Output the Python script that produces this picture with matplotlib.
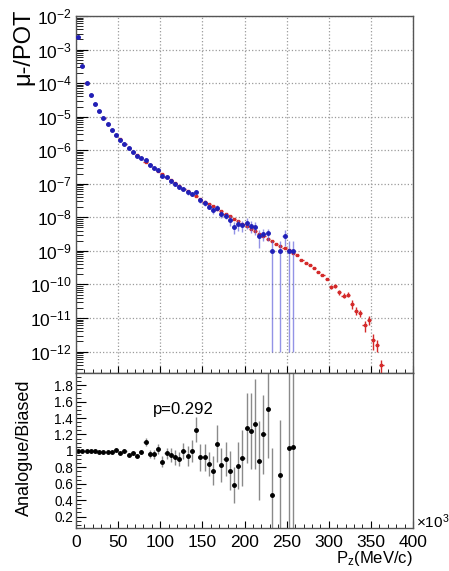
import numpy as np
import matplotlib
matplotlib.use("Agg")
import matplotlib.pyplot as plt
from matplotlib.ticker import LogLocator, MultipleLocator, FixedLocator, FuncFormatter, NullFormatter

plt.rcParams['font.family'] = ['Liberation Sans', 'DejaVu Sans']
plt.rcParams['mathtext.fontset'] = 'custom'
plt.rcParams['mathtext.rm'] = 'Liberation Sans'
plt.rcParams['mathtext.it'] = 'Liberation Sans:italic'
plt.rcParams['mathtext.default'] = 'regular'

# bins of 5 (x10^3 MeV/c), centres
half_bin = 2.5
biased_pz = np.arange(2.5, 365.0, 5.0)
analogue_pz = np.arange(2.5, 260.0, 5.0)

# log10(mu-/POT), biased sample (red)
biased_log = [
    -2.62, -3.50, -4.00, -4.34, -4.63, -4.84, -5.04, -5.23, -5.39, -5.54,
    -5.68, -5.81, -5.92, -6.04, -6.15, -6.23, -6.35, -6.43, -6.52, -6.61,
    -6.70, -6.80, -6.90, -6.98, -7.06, -7.15, -7.23, -7.29, -7.36, -7.45,
    -7.53, -7.60, -7.67, -7.75, -7.82, -7.90, -7.97, -8.05, -8.12, -8.20,
    -8.27, -8.35, -8.42, -8.50, -8.57, -8.66, -8.72, -8.78, -8.84, -8.91,
    -8.98, -9.05, -9.12, -9.26, -9.37, -9.43, -9.51, -9.63, -9.72, -9.83,
    -10.08, -10.04, -10.23, -10.33, -10.30, -10.57, -10.78, -10.85, -11.22, -11.05,
    -11.65, -11.80, -12.40,
]
# relative errors, biased
biased_relerr = [
    0.01, 0.01, 0.01, 0.01, 0.01, 0.01, 0.01, 0.01, 0.01, 0.01,
    0.01, 0.01, 0.01, 0.01, 0.01, 0.01, 0.01, 0.01, 0.01, 0.01,
    0.02, 0.02, 0.02, 0.02, 0.02, 0.02, 0.02, 0.02, 0.02, 0.02,
    0.02, 0.02, 0.02, 0.02, 0.02, 0.02, 0.02, 0.02, 0.02, 0.02,
    0.03, 0.03, 0.03, 0.03, 0.03, 0.03, 0.04, 0.04, 0.04, 0.04,
    0.05, 0.05, 0.06, 0.06, 0.07, 0.07, 0.07, 0.08, 0.08, 0.08,
    0.13, 0.13, 0.15, 0.15, 0.15, 0.30, 0.25, 0.25, 0.35, 0.30,
    0.50, 0.40, 0.45,
]

# log10(mu-/POT), analogue sample (blue); nan = empty bin
analogue_log = [
    -2.62, -3.50, -4.00, -4.34, -4.63, -4.84, -5.04, -5.23, -5.39, -5.54,
    -5.69, -5.81, -5.94, -6.05, -6.18, -6.23, -6.30, -6.45, -6.54, -6.60,
    -6.76, -6.81, -6.92, -7.02, -7.11, -7.15, -7.26, -7.29, -7.26, -7.49,
    -7.57, -7.68, -7.79, -7.71, -7.90, -7.95, -8.09, -8.29, -8.21, -8.24,
    -8.16, -8.26, -8.30, -8.56, -8.49, -8.48, -9.00, np.nan, -9.00, -8.56,
    -9.00, -9.00,
]
analogue_relerr = [
    0.003, 0.003, 0.004, 0.004, 0.005, 0.006, 0.007, 0.008, 0.009, 0.01,
    0.012, 0.014, 0.016, 0.018, 0.02, 0.025, 0.045, 0.05, 0.055, 0.06,
    0.08, 0.07, 0.085, 0.10, 0.10, 0.10, 0.13, 0.13, 0.12, 0.17,
    0.18, 0.18, 0.24, 0.20, 0.25, 0.23, 0.32, 0.38, 0.35, 0.37,
    0.34, 0.37, 0.41, 0.55, 0.40, 0.40, 0.999, np.nan, 0.999, 0.5,
    0.999, 0.999,
]

# Analogue/Biased ratio
ratio = [
    1.0, 1.0, 1.0, 0.995, 0.995, 0.99, 0.99, 0.99, 0.99, 1.01,
    0.975, 1.0, 0.95, 0.97, 0.94, 0.99, 1.11, 0.96, 0.96, 1.02,
    0.87, 0.97, 0.95, 0.92, 0.90, 1.0, 0.94, 1.0, 1.26, 0.92,
    0.92, 0.84, 0.76, 1.09, 0.83, 0.90, 0.76, 0.58, 0.82, 0.91,
    1.28, 1.24, 1.33, 0.88, 1.20, 1.51, 0.46, np.nan, 0.71, np.nan,
    1.04, 1.05,
]
ratio_err = [
    0.003, 0.003, 0.004, 0.004, 0.005, 0.006, 0.007, 0.008, 0.009, 0.01,
    0.012, 0.014, 0.016, 0.018, 0.02, 0.025, 0.05, 0.05, 0.055, 0.06,
    0.07, 0.07, 0.08, 0.09, 0.09, 0.10, 0.12, 0.13, 0.15, 0.16,
    0.17, 0.15, 0.18, 0.22, 0.21, 0.21, 0.24, 0.22, 0.29, 0.34,
    0.43, 0.46, 0.55, 0.48, 0.48, 0.60, 0.57, np.nan, 0.67, np.nan,
    5.0, 5.0,
]
p_value = 0.292

biased = 10.0 ** np.array(biased_log)
analogue = 10.0 ** np.array(analogue_log)

fig = plt.figure(figsize=(4.49, 5.71), dpi=100)
ax1 = fig.add_axes([0.1693, 0.3468, 0.7506, 0.6252])
ax2 = fig.add_axes([0.1693, 0.0753, 0.7506, 0.2715])

red = '#d42a2a'
blue = '#2020b8'

ax1.errorbar(biased_pz, biased, xerr=half_bin, yerr=biased * np.array(biased_relerr),
             fmt='s', ms=1.5, color=red, ecolor=red, elinewidth=1.0, capsize=0, zorder=3)
ax1.errorbar(analogue_pz, analogue, xerr=half_bin, yerr=analogue * np.array(analogue_relerr),
             fmt='o', ms=2.5, color=blue, ecolor=(0.35, 0.35, 0.85, 0.65), elinewidth=1.0,
             capsize=0, zorder=4)

ax1.set_yscale('log')
ax1.set_xlim(0, 400)
ax1.set_ylim(2.3e-13, 1e-2)
ax1.yaxis.set_major_locator(LogLocator(base=10, numticks=20))
ax1.yaxis.set_minor_locator(LogLocator(base=10, subs=np.arange(2, 10), numticks=20))
ax1.yaxis.set_minor_formatter(NullFormatter())
ax1.xaxis.set_major_locator(MultipleLocator(50))
ax1.xaxis.set_minor_locator(MultipleLocator(10))
ax1.xaxis.set_major_formatter(NullFormatter())
ax1.grid(True, which='major', color='#9a9a9a', linestyle=':', linewidth=0.9)
ax1.tick_params(axis='y', which='major', direction='in', length=8.5, width=0.8,
                labelsize=12.5, left=True, right=False, pad=3)
ax1.tick_params(axis='y', which='minor', direction='in', length=5, width=0.6, right=False)
ax1.tick_params(axis='x', which='major', direction='in', length=5, width=0.8, top=False)
ax1.tick_params(axis='x', which='minor', direction='in', length=2.7, width=0.6, top=False)

ax2.errorbar(analogue_pz, ratio, xerr=half_bin, yerr=ratio_err, fmt='o', ms=2.5,
             color='black', ecolor='#8a8a8a', elinewidth=1.0, capsize=0)
ax2.set_xlim(0, 400)
ax2.set_ylim(0.06, 1.95)
ax2.xaxis.set_major_locator(MultipleLocator(50))
ax2.xaxis.set_minor_locator(MultipleLocator(10))
ax2.yaxis.set_major_locator(FixedLocator([0.2, 0.4, 0.6, 0.8, 1.0, 1.2, 1.4, 1.6, 1.8]))
ax2.yaxis.set_minor_locator(MultipleLocator(0.05))
ax2.yaxis.set_major_formatter(FuncFormatter(lambda v, _: '%g' % v))
ax2.tick_params(axis='y', which='major', direction='in', length=7, width=0.8,
                labelsize=9.8, right=False, pad=2)
ax2.tick_params(axis='y', which='minor', direction='in', length=3.6, width=0.6, right=False)
ax2.tick_params(axis='x', which='major', direction='in', length=5, width=0.8,
                labelsize=12.5, top=False, pad=5)
ax2.tick_params(axis='x', which='minor', direction='in', length=2.7, width=0.6, top=False)
ax2.text(91, 1.50, 'p=%.3f' % p_value, fontsize=12, va='center', ha='left')

for ax in (ax1, ax2):
    for s in ax.spines.values():
        s.set_color('#555555')
        s.set_linewidth(1.0)

fig.text(23 / 449, 1 - 9 / 571, u'\u03bc-/POT', rotation=90, fontsize=17, ha='center', va='top')
fig.text(24 / 449, 1 - 448 / 571, 'Analogue/Biased', rotation=90, fontsize=13,
         ha='center', va='center')
fig.text(413 / 449, 1 - 558 / 571, '$P_{z}$(MeV/c)', fontsize=12, ha='right', va='center')
fig.text(416 / 449, 1 - 522 / 571, r'$\times10^{3}$', fontsize=11, ha='left', va='center')

fig.savefig('out.png', dpi=100)
